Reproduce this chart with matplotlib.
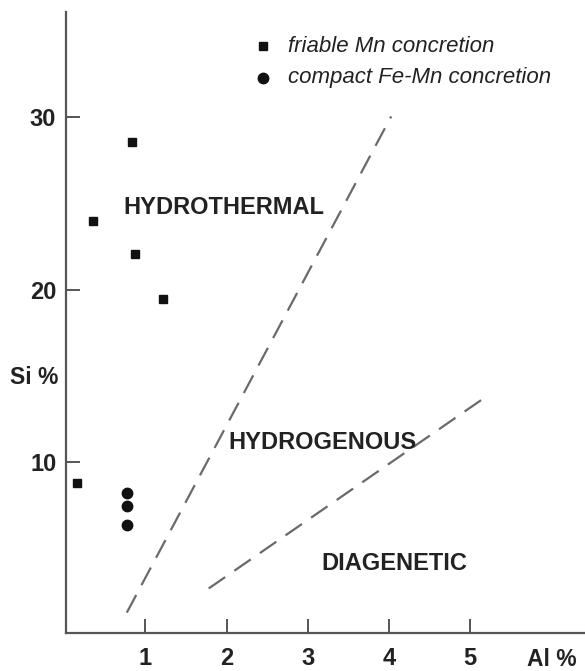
import numpy as np
import matplotlib
matplotlib.use("Agg")
from matplotlib import pyplot as plt

plt.rcParams['font.family'] = ['Liberation Sans', 'DejaVu Sans']

# friable Mn concretion (squares)
friable_al = [0.84, 0.35, 0.87, 1.21, 0.16]
friable_si = [28.55, 24.0, 22.05, 19.5, 8.8]

# compact Fe-Mn concretion (circles)
compact_al = [0.77, 0.77, 0.77]
compact_si = [8.25, 7.45, 6.35]

# boundary lines (dashed)
line1_al = [0.77, 4.03]
line1_si = [1.3, 30.05]
line2_al = [1.78, 5.15]
line2_si = [2.7, 13.65]

x_ticks = [1, 2, 3, 4, 5]
y_ticks = [10, 20, 30]

legend_labels = ['friable Mn concretion', 'compact Fe-Mn concretion']

axcol = '#555555'
txtcol = '#222222'

W, H = 585, 671
fig = plt.figure(figsize=(W / 100, H / 100), dpi=100)
# axes box in pixels: left 66, right 585, top 12, bottom 633
ax = fig.add_axes([66 / W, (H - 633) / H, 1 - 66 / W, (633 - 12) / H])

def px(x, y):
    # pixel position -> axes fraction
    return (x - 66) / 519, (633 - y) / 621

ax.plot(line1_al, line1_si, color='#6a6a6a', lw=1.6, dashes=(9, 5))
ax.plot(line2_al, line2_si, color='#6a6a6a', lw=1.6, dashes=(9, 5))

ax.plot(friable_al, friable_si, 's', color='#111111', ms=5.5, ls='none')
ax.plot(compact_al, compact_si, 'o', color='#111111', ms=7.5, ls='none')

ax.set_xlim(0.02, 6.42)
ax.set_ylim(0.12, 36.1)

for s in ['top', 'right']:
    ax.spines[s].set_visible(False)
for s in ['left', 'bottom']:
    ax.spines[s].set_color(axcol)
    ax.spines[s].set_linewidth(1.6)

ax.set_xticks(x_ticks)
ax.set_yticks(y_ticks)
ax.tick_params(direction='in', length=10, width=1.4, color=axcol,
               labelsize=17, pad=7)
ax.tick_params(axis='x', pad=10)
for lab in ax.get_xticklabels() + ax.get_yticklabels():
    lab.set_fontweight('bold')
    lab.set_color(txtcol)

# region names
ax.text(1.97, 24.8, 'HYDROTHERMAL', fontsize=17, fontweight='bold',
        ha='center', va='center', color=txtcol)
ax.text(3.18, 11.15, 'HYDROGENOUS', fontsize=17, fontweight='bold',
        ha='center', va='center', color=txtcol)
ax.text(4.07, 4.15, 'DIAGENETIC', fontsize=17, fontweight='bold',
        ha='center', va='center', color=txtcol)

# axis names
fig.text(10 / W, 1 - 378 / H, 'Si %', fontsize=16.5, fontweight='bold',
         ha='left', va='center', color=txtcol)
fig.text(552 / W, 1 - 660 / H, 'Al %', fontsize=16.5, fontweight='bold',
         ha='center', va='center', color=txtcol)

# legend, drawn by hand
mx, my = px(263, 46)
ax.plot([mx], [my], 's', color='#111111', ms=5.5, transform=ax.transAxes, clip_on=False)
mx, my = px(263, 78)
ax.plot([mx], [my], 'o', color='#111111', ms=7.5, transform=ax.transAxes, clip_on=False)
for lab, y in zip(legend_labels, [46, 78]):
    tx, ty = px(288, y)
    ax.text(tx, ty, lab, transform=ax.transAxes, fontsize=16, style='italic',
            ha='left', va='center', color=txtcol)

fig.savefig('out.png', dpi=100)
